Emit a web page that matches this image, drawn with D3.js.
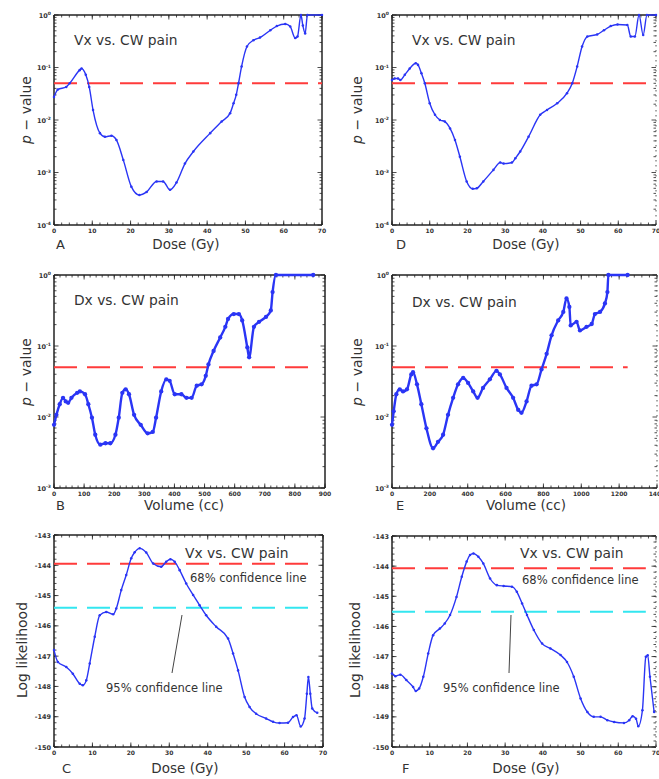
<!DOCTYPE html>
<html>
<head>
<meta charset="utf-8">
<script src="https://cdn.jsdelivr.net/npm/d3@7"></script>
<style>
  html, body { margin: 0; padding: 0; background: #fff; }
  svg { display: block; }
  text { font-family: "DejaVu Sans", Verdana, sans-serif; fill: #333; }
</style>
</head>
<body>
<svg id="chart" width="659" height="779"></svg>
<script>
// ---------------- DATA ----------------
// Panel A: Vx vs CW pain (dose, log10 p)
const doseA = [0,1.0,3.2,4.1,6.7,7.2,8.3,9.2,10.2,12.0,13.3,15.0,16.3,18.1,20.2,22.3,24.2,26.8,28.5,30.3,32.0,34.2,36.4,40.8,43.8,46.0,46.9,47.6,48.2,49.0,50.4,52.1,53.8,56.5,58.2,60.4,61.7,63.0,63.6,64.5,65.0,65.6,66.2,70];
const log10pA = [-1.56,-1.42,-1.37,-1.30,-1.05,-1.02,-1.14,-1.37,-1.81,-2.25,-2.32,-2.30,-2.38,-2.76,-3.27,-3.43,-3.37,-3.17,-3.17,-3.33,-3.19,-2.83,-2.60,-2.25,-2.03,-1.87,-1.68,-1.52,-1.30,-0.98,-0.60,-0.48,-0.43,-0.29,-0.21,-0.17,-0.22,-0.44,-0.41,0,-0.2,-0.35,0,0];

// Panel D
const doseD = [0,0.7,1.6,2.2,3.4,4.7,6.3,6.9,7.8,8.7,10.0,11.4,12.7,14.0,15.4,16.7,18.0,19.8,21.4,22.5,24.2,26.9,28.7,29.6,31.8,32.7,34.0,36.2,39.3,41.1,43.8,46.4,47.8,49.1,50.4,51.8,54.4,56.2,58.0,59.8,62.4,63.3,64.4,65.5,66.6,67.6,70];
const log10pD = [-1.24,-1.21,-1.21,-1.24,-1.14,-1.02,-0.92,-0.95,-1.11,-1.30,-1.68,-1.90,-2.00,-2.03,-2.16,-2.38,-2.70,-3.17,-3.31,-3.30,-3.17,-2.95,-2.81,-2.83,-2.81,-2.73,-2.60,-2.32,-1.90,-1.81,-1.68,-1.49,-1.30,-0.98,-0.60,-0.41,-0.37,-0.29,-0.21,-0.18,-0.19,-0.41,-0.41,0,-0.38,0,0];

// Panel B: Dx vs CW pain (volume, log10 p)
const volB = [0,8,19,30,39,47,58,77,86,103,114,126,137,154,171,187,204,215,227,238,249,266,288,311,328,339,356,373,384,401,423,440,457,474,490,504,513,530,552,569,578,597,614,625,642,648,664,681,704,720,726,737,861];
const log10pB = [-2.11,-1.97,-1.82,-1.73,-1.78,-1.80,-1.73,-1.66,-1.64,-1.68,-1.82,-2.01,-2.25,-2.39,-2.37,-2.37,-2.25,-2.01,-1.66,-1.61,-1.68,-1.97,-2.11,-2.23,-2.21,-2.01,-1.64,-1.47,-1.49,-1.68,-1.68,-1.73,-1.73,-1.56,-1.54,-1.42,-1.26,-1.07,-0.88,-0.73,-0.62,-0.55,-0.55,-0.64,-1.02,-1.16,-0.73,-0.66,-0.59,-0.50,-0.24,0,0];

// Panel E
const volE = [0,9,23,41,58,79,102,111,132,155,182,217,243,270,296,323,349,376,402,429,452,481,517,552,570,605,640,667,684,711,737,764,790,817,843,878,905,922,937,944,975,993,1028,1055,1072,1099,1125,1138,1143,1245];
const log10pE = [-2.11,-1.92,-1.68,-1.61,-1.64,-1.61,-1.40,-1.37,-1.54,-1.82,-2.16,-2.44,-2.35,-2.25,-1.97,-1.73,-1.54,-1.45,-1.52,-1.64,-1.73,-1.59,-1.47,-1.35,-1.40,-1.59,-1.73,-1.90,-1.94,-1.78,-1.56,-1.54,-1.33,-1.11,-0.85,-0.64,-0.52,-0.33,-0.45,-0.71,-0.66,-0.78,-0.73,-0.69,-0.55,-0.52,-0.40,-0.24,0,0];

// Panel C: log likelihood vs dose
const doseC = [0,1.0,3.2,4.9,6.7,7.5,8.4,9.3,10.6,11.9,13.6,15.4,16.2,17.5,18.8,20.1,21.0,22.3,24.0,25.8,27.9,29.2,30.3,31.4,32.7,34.4,36.2,37.9,39.6,42.2,45.3,46.6,47.9,49.6,50.9,52.6,55.2,57.0,58.7,60.9,62.2,63.1,64.2,65.2,65.8,66.2,66.7,67.2,68.5];
const llC = [-146.80,-147.19,-147.36,-147.58,-147.91,-147.96,-147.80,-147.24,-146.36,-145.65,-145.54,-145.62,-145.43,-144.82,-144.32,-143.77,-143.57,-143.44,-143.58,-143.94,-144.05,-143.88,-143.80,-143.88,-144.16,-144.60,-144.98,-145.32,-145.65,-146.03,-146.42,-146.91,-147.47,-148.35,-148.68,-148.90,-149.06,-149.17,-149.21,-149.20,-149.01,-148.95,-149.32,-149.06,-148.24,-147.69,-148.24,-148.73,-148.87];

// Panel F
const doseF = [0,0.9,2.2,3.8,5.6,6.3,7.2,8.3,9.6,10.9,12.7,14.0,15.4,17.1,18.5,19.8,20.7,21.6,22.9,24.2,26.0,27.8,29.6,31.8,33.1,34.5,35.8,37.6,39.8,42.0,44.7,46.4,48.2,50.0,51.8,53.5,55.3,57.1,58.9,61.5,62.9,63.8,64.7,65.3,66.4,67.3,67.8,68.4,69.5];
const llF = [-147.56,-147.65,-147.60,-147.78,-148.01,-148.14,-148.06,-147.67,-146.90,-146.29,-146.07,-145.90,-145.62,-145.02,-144.35,-143.85,-143.63,-143.58,-143.69,-143.91,-144.41,-144.63,-144.66,-144.68,-144.85,-145.24,-145.62,-146.12,-146.57,-146.73,-146.95,-147.18,-147.67,-148.39,-148.84,-149.00,-149.00,-149.11,-149.17,-149.20,-149.11,-148.98,-149.06,-149.31,-148.78,-147.01,-146.96,-147.67,-148.84];

// Thresholds
const pThreshold = 0.05;
const conf68C = -143.95, conf95C = -145.40;
const conf68F = -144.07, conf95F = -145.51;

// Tick values
const doseTicks = [0,10,20,30,40,50,60,70];
const volTicksB = [0,100,200,300,400,500,600,700,800,900];
const volTicksE = [0,200,400,600,800,1000,1200,1400];
const pExpTicksA = [0,-1,-2,-3,-4];
const pExpTicksB = [0,-1,-2,-3];
const llTicks = [-143,-144,-145,-146,-147,-148,-149,-150];

// Labels
const titlesTop = "Vx vs. CW pain";
const titlesMid = "Dx vs. CW pain";
const conf68Label = "68% confidence line";
const conf95Label = "95% confidence line";

// ---------------- DRAW ----------------
const svg = d3.select("#chart");
const BLUE = "#2a35f5", RED = "#ff3b3b", CYAN = "#33e6f0";

function panel(cfg) {
  const g = svg.append("g");
  const x = d3.scaleLinear().domain(cfg.xDomain).range([cfg.x0, cfg.x1]);
  const y = cfg.yLog
    ? d3.scaleLog().domain(cfg.yDomain).range([cfg.y1, cfg.y0])
    : d3.scaleLinear().domain(cfg.yDomain).range([cfg.y1, cfg.y0]);

  // ticks on all sides (inward)
  const tickG = g.append("g").attr("stroke", "#222").attr("stroke-width", 0.8);
  cfg.xMinor.forEach(v => {
    tickG.append("line").attr("x1", x(v)).attr("x2", x(v)).attr("y1", cfg.y1).attr("y2", cfg.y1 - 2.5);
    tickG.append("line").attr("x1", x(v)).attr("x2", x(v)).attr("y1", cfg.y0).attr("y2", cfg.y0 + 2.5);
  });
  cfg.xTicks.forEach(v => {
    tickG.append("line").attr("x1", x(v)).attr("x2", x(v)).attr("y1", cfg.y1).attr("y2", cfg.y1 - 4.5);
    tickG.append("line").attr("x1", x(v)).attr("x2", x(v)).attr("y1", cfg.y0).attr("y2", cfg.y0 + 4.5);
  });
  cfg.yMinor.forEach(v => {
    tickG.append("line").attr("x1", cfg.x0).attr("x2", cfg.x0 + 2.5).attr("y1", y(v)).attr("y2", y(v));
    tickG.append("line").attr("x1", cfg.x1).attr("x2", cfg.x1 - 2.5).attr("y1", y(v)).attr("y2", y(v));
  });
  cfg.yTicks.forEach(v => {
    tickG.append("line").attr("x1", cfg.x0).attr("x2", cfg.x0 + 4.5).attr("y1", y(v)).attr("y2", y(v));
    tickG.append("line").attr("x1", cfg.x1).attr("x2", cfg.x1 - 4.5).attr("y1", y(v)).attr("y2", y(v));
  });

  // frame
  const fr = g.append("g").attr("fill", "none").attr("stroke", "#222");
  fr.append("line").attr("x1", cfg.x0).attr("x2", cfg.x0).attr("y1", cfg.y0).attr("y2", cfg.y1).attr("stroke-width", 1.5);
  fr.append("line").attr("x1", cfg.x0).attr("x2", cfg.x1).attr("y1", cfg.y1).attr("y2", cfg.y1).attr("stroke-width", 1.5);
  fr.append("line").attr("x1", cfg.x0).attr("x2", cfg.x1).attr("y1", cfg.y0).attr("y2", cfg.y0).attr("stroke-width", 1.5);
  const rb = fr.append("line").attr("x1", cfg.x1).attr("x2", cfg.x1).attr("y1", cfg.y0).attr("y2", cfg.y1);
  if (cfg.dottedRight) rb.attr("stroke-width", 1).attr("stroke-dasharray", "1.5,3.5").attr("stroke", "#555");
  else rb.attr("stroke-width", 1.5);

  // tick labels
  cfg.xTicks.forEach(v => {
    g.append("text").attr("x", x(v)).attr("y", cfg.y1 + 7.5).attr("text-anchor", "middle")
      .attr("font-size", 6).attr("font-weight", "bold").attr("fill", "#222").text(String(v));
  });
  cfg.yTicks.forEach(v => {
    const t = g.append("text").attr("x", cfg.x0 - 3).attr("y", y(v) + 2.5).attr("text-anchor", "end")
      .attr("font-size", 6.5).attr("font-weight", "bold").attr("fill", "#222");
    if (cfg.yLog) {
      const e = Math.round(Math.log10(v));
      t.append("tspan").text("10");
      t.append("tspan").attr("dy", -2.5).attr("font-size", 4.5).text(String(e));
    } else {
      t.text(String(v));
    }
  });

  // threshold lines
  cfg.hlines.forEach(h => {
    g.append("line").attr("x1", x(h.from)).attr("x2", x(h.to)).attr("y1", y(h.value)).attr("y2", y(h.value))
      .attr("stroke", h.color).attr("stroke-width", 2).attr("stroke-dasharray", "23,10");
  });

  // curve
  const pts = cfg.xs.map((v, i) => [v, cfg.ys[i]]);
  const line = d3.line().x(d => x(d[0])).y(d => y(d[1])).curve(d3.curveMonotoneX);
  g.append("path").attr("d", line(pts)).attr("fill", "none").attr("stroke", BLUE)
    .attr("stroke-width", cfg.lineWidth).attr("stroke-linejoin", "round");
  g.selectAll("circle.pt").data(pts).enter().append("circle").attr("class", "pt")
    .attr("cx", d => x(d[0])).attr("cy", d => y(d[1])).attr("r", cfg.lineWidth * 0.9).attr("fill", BLUE);

  // texts
  g.append("text").attr("x", cfg.titlePos[0]).attr("y", cfg.titlePos[1]).attr("font-size", 13.8).text(cfg.title);
  g.append("text").attr("x", cfg.letterPos[0]).attr("y", cfg.letterPos[1]).attr("font-size", 13).text(cfg.letter);
  g.append("text").attr("x", cfg.xLabelPos[0]).attr("y", cfg.xLabelPos[1]).attr("text-anchor", "middle").attr("font-size", 13.5).text(cfg.xLabel);
  const yl = g.append("text").attr("transform", `translate(${cfg.yLabelPos[0]},${cfg.yLabelPos[1]}) rotate(-90)`)
    .attr("text-anchor", "middle").attr("font-size", 14);
  if (cfg.yLog) {
    yl.append("tspan").attr("font-style", "italic").text("p");
    yl.append("tspan").text(" \u2212 value");
  } else yl.text(cfg.yLabel);

  if (cfg.conf) {
    g.append("text").attr("x", cfg.conf.l68[0]).attr("y", cfg.conf.l68[1]).attr("font-size", 11.5).text(conf68Label);
    g.append("text").attr("x", cfg.conf.l95[0]).attr("y", cfg.conf.l95[1]).attr("font-size", 11.5).text(conf95Label);
    g.append("line").attr("x1", cfg.conf.ptr[0]).attr("y1", cfg.conf.ptr[1]).attr("x2", cfg.conf.ptr[2]).attr("y2", cfg.conf.ptr[3])
      .attr("stroke", "#444").attr("stroke-width", 1);
  }
}

function logMinor(minE, maxE) {
  const out = [];
  for (let e = minE; e < maxE; e++) for (let k = 2; k <= 9; k++) out.push(k * Math.pow(10, e));
  return out;
}
function linMinor(a, b, step) { return d3.range(a, b + step / 2, step); }

const pA = log10pA.map(v => Math.pow(10, v));
const pD = log10pD.map(v => Math.pow(10, v));
const pB = log10pB.map(v => Math.pow(10, v));
const pE = log10pE.map(v => Math.pow(10, v));

// A
panel({x0: 54, x1: 322, y0: 15, y1: 225, xDomain: [0, 70], yDomain: [1e-4, 1], yLog: true,
  xTicks: doseTicks, xMinor: linMinor(0, 70, 2), yTicks: pExpTicksA.map(e => Math.pow(10, e)), yMinor: logMinor(-4, 0),
  xs: doseA, ys: pA, lineWidth: 1.4,
  hlines: [{value: pThreshold, from: 0, to: 70, color: RED}],
  title: titlesTop, titlePos: [74, 45], letter: "A", letterPos: [56, 249], xLabel: "Dose (Gy)", xLabelPos: [186, 249],
  yLabelPos: [31, 110]});
// D
panel({x0: 392, x1: 656, y0: 15, y1: 225, xDomain: [0, 70], yDomain: [1e-4, 1], yLog: true, dottedRight: true,
  xTicks: doseTicks, xMinor: linMinor(0, 70, 2), yTicks: pExpTicksA.map(e => Math.pow(10, e)), yMinor: logMinor(-4, 0),
  xs: doseD, ys: pD, lineWidth: 1.4,
  hlines: [{value: pThreshold, from: 0, to: 70, color: RED}],
  title: titlesTop, titlePos: [412, 45], letter: "D", letterPos: [396, 249], xLabel: "Dose (Gy)", xLabelPos: [526, 249],
  yLabelPos: [362, 110]});
// B
panel({x0: 54, x1: 325, y0: 275, y1: 488, xDomain: [0, 900], yDomain: [1e-3, 1], yLog: true,
  xTicks: volTicksB, xMinor: linMinor(0, 900, 20), yTicks: pExpTicksB.map(e => Math.pow(10, e)), yMinor: logMinor(-3, 0),
  xs: volB, ys: pB, lineWidth: 2.4,
  hlines: [{value: pThreshold, from: 0, to: 861, color: RED}],
  title: titlesMid, titlePos: [74, 305], letter: "B", letterPos: [56, 510], xLabel: "Volume (cc)", xLabelPos: [184, 510],
  yLabelPos: [31, 372]});
// E
panel({x0: 392, x1: 657, y0: 275, y1: 488, xDomain: [0, 1400], yDomain: [1e-3, 1], yLog: true, dottedRight: true,
  xTicks: volTicksE, xMinor: linMinor(0, 1400, 40), yTicks: pExpTicksB.map(e => Math.pow(10, e)), yMinor: logMinor(-3, 0),
  xs: volE, ys: pE, lineWidth: 2.4,
  hlines: [{value: pThreshold, from: 0, to: 1245, color: RED}],
  title: titlesMid, titlePos: [412, 307], letter: "E", letterPos: [396, 510], xLabel: "Volume (cc)", xLabelPos: [526, 510],
  yLabelPos: [362, 372]});
// C
panel({x0: 54, x1: 323, y0: 535, y1: 747, xDomain: [0, 70], yDomain: [-150, -143], yLog: false,
  xTicks: doseTicks, xMinor: linMinor(0, 70, 2), yTicks: llTicks, yMinor: linMinor(-150, -143, 0.2),
  xs: doseC, ys: llC, lineWidth: 1.4,
  hlines: [{value: conf68C, from: 0, to: 66.5, color: RED}, {value: conf95C, from: 0, to: 67, color: CYAN}],
  title: titlesTop, titlePos: [185, 558], letter: "C", letterPos: [62, 773], xLabel: "Dose (Gy)", xLabelPos: [185, 773],
  yLabelPos: [27, 650], yLabel: "Log likelihood",
  conf: {l68: [190, 582], l95: [106, 692], ptr: [182, 615, 172, 673]}});
// F
panel({x0: 392, x1: 656, y0: 536, y1: 747, xDomain: [0, 70], yDomain: [-150, -143], yLog: false, dottedRight: true,
  xTicks: doseTicks, xMinor: linMinor(0, 70, 2), yTicks: llTicks, yMinor: linMinor(-150, -143, 0.2),
  xs: doseF, ys: llF, lineWidth: 1.4,
  hlines: [{value: conf68F, from: 0, to: 67.3, color: RED}, {value: conf95F, from: 0, to: 67.3, color: CYAN}],
  title: titlesTop, titlePos: [520, 558], letter: "F", letterPos: [402, 773], xLabel: "Dose (Gy)", xLabelPos: [526, 773],
  yLabelPos: [360, 650], yLabel: "Log likelihood",
  conf: {l68: [522, 584], l95: [443, 692], ptr: [511, 615, 509, 673]}});
</script>
</body>
</html>
